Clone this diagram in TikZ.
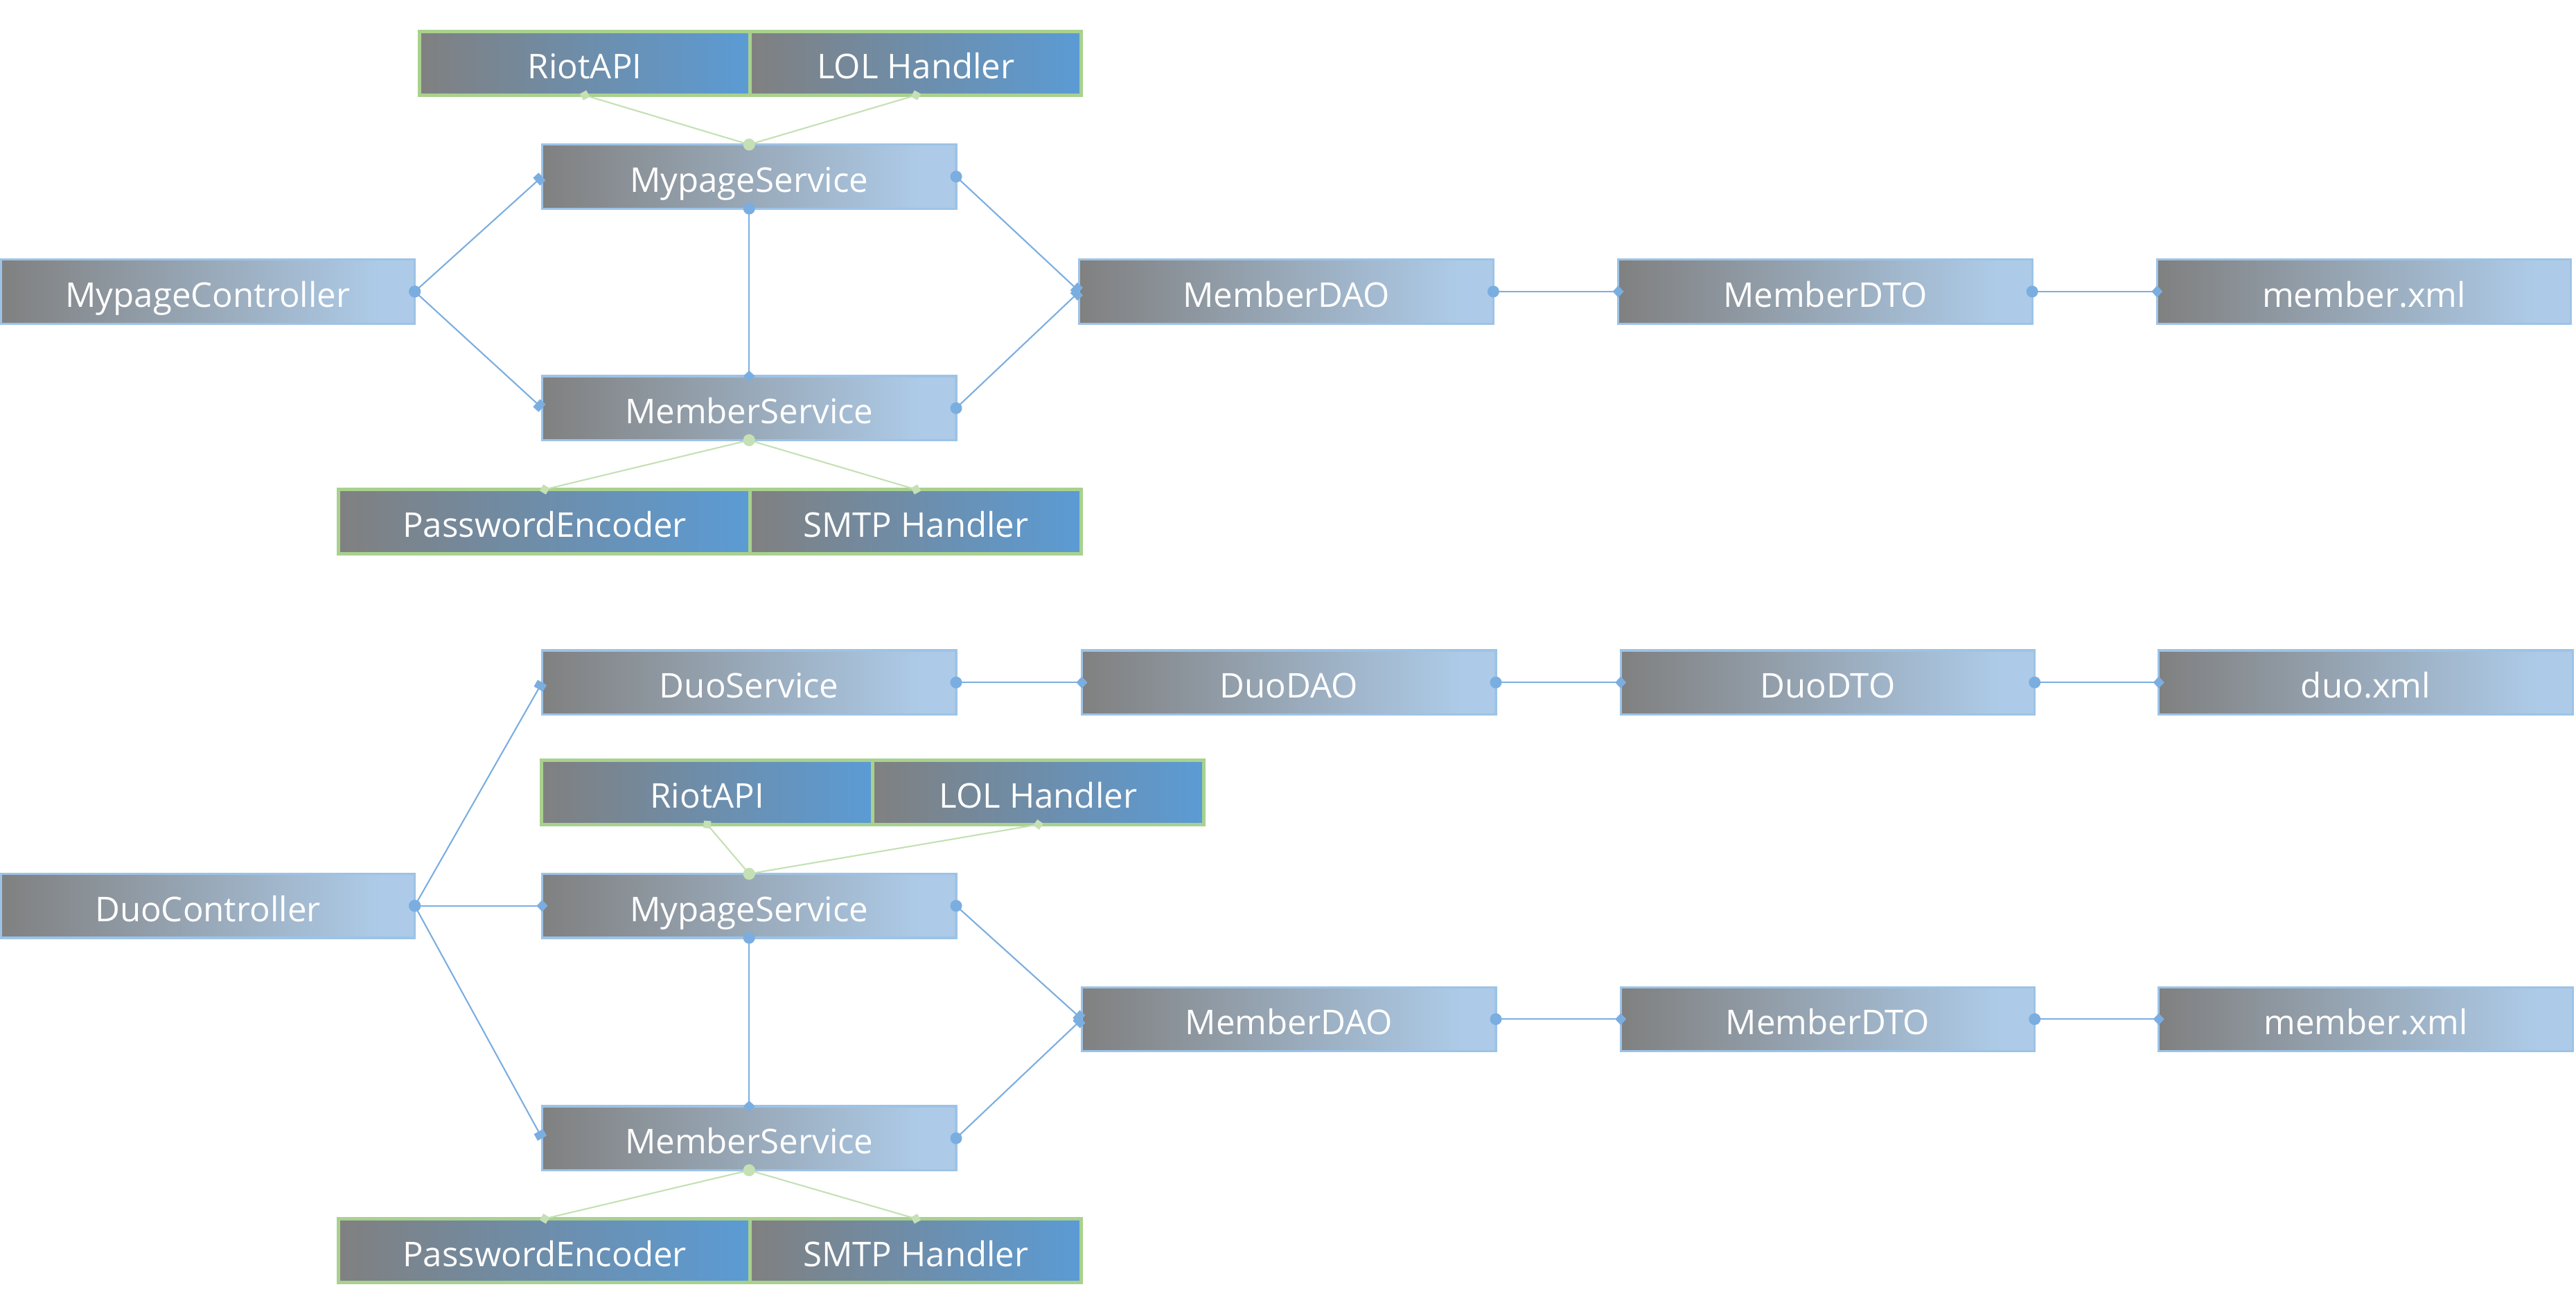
\documentclass[tikz,border=0pt]{standalone}
\usepackage{fontspec}
\setmainfont{Open Sans}
\usetikzlibrary{arrows.meta,positioning}
\definecolor{boxgray}{HTML}{808080}
\definecolor{paleblue}{HTML}{ADCBE8}
\definecolor{deepblue}{HTML}{5B9BD5}
\definecolor{edgeblue}{HTML}{9DC3E6}
\definecolor{linkblue}{HTML}{7BAEE0}
\definecolor{libgreen}{HTML}{A9D18E}
\definecolor{linkgreen}{HTML}{C5E0B4}
\pgfdeclarehorizontalshading{layershade}{100bp}{color(0bp)=(boxgray); color(25bp)=(boxgray); color(71bp)=(paleblue); color(100bp)=(paleblue)}
\tikzset{
  layerbox/.style={draw=edgeblue, line width=0.9pt, shading=layershade, text=white, font=\fontsize{14}{16}\selectfont, text height=0.45cm, text depth=0pt, minimum width=5.975cm, minimum height=0.925cm, inner sep=0pt, outer sep=0pt},
  libbox/.style={draw=libgreen, line width=1.4pt, left color=boxgray, right color=deepblue, text=white, font=\fontsize{14}{16}\selectfont, text height=0.45cm, text depth=0pt, minimum width=#1, minimum height=0.925cm, inner sep=0pt, outer sep=0pt},
  libbox/.default=4.78cm,
  link/.style={{Circle[length=1.7mm,width=1.7mm]}-{Square[length=1.1mm,width=1.5mm]}, line width=0.6pt, draw=linkblue, shorten <=-0.85mm},
  chainlink/.style={{Circle[length=1.7mm,width=1.7mm]}-{Diamond[length=1.6mm,width=1.7mm]}, line width=0.6pt, draw=linkblue, shorten <=-0.85mm, shorten >=-0.8mm},
  uselink/.style={{Circle[length=1.7mm,width=1.7mm]}-{Diamond[length=1.5mm,width=1.5mm]}, line width=0.6pt, draw=linkgreen, shorten <=-0.85mm, shorten >=-0.75mm}
}

\begin{document}
\begin{tikzpicture}[x=0.02371cm,y=-0.02371cm]
  \useasboundingbox (0,0) rectangle (1568,800);
  % mypage part
  \node[libbox] (riotA) at (356,38.5) {RiotAPI};
  \node[libbox] (lolA) at (557.5,38.5) {LOL Handler};
  \node[layerbox] (mpsA) at (456,107.5) {MypageService};
  \node[layerbox] (mpcA) at (126.5,177.5) {MypageController};
  \node[layerbox] (msA) at (456,248.5) {MemberService};
  \node[libbox=5.95cm] (pwA) at (331.5,317.5) {PasswordEncoder};
  \node[libbox] (smtpA) at (557.5,317.5) {SMTP Handler};
  \node[layerbox] (daoA) at (783,177.5) {MemberDAO};
  \node[layerbox] (dtoA) at (1111,177.5) {MemberDTO};
  \node[layerbox] (xmlA) at (1439,177.5) {member.xml};
  \draw[link] (mpcA.east) -- (mpsA.west);
  \draw[link] (mpcA.east) -- (msA.west);
  \draw[link] (mpsA.east) -- (daoA.west);
  \draw[link] (msA.east) -- (daoA.west);
  \draw[chainlink] (mpsA.south) -- (msA.north);
  \draw[chainlink] (daoA.east) -- (dtoA.west);
  \draw[chainlink] (dtoA.east) -- (xmlA.west);
  \draw[uselink] (mpsA.north) -- (riotA.south);
  \draw[uselink] (mpsA.north) -- (lolA.south);
  \draw[uselink] (msA.south) -- (pwA.north);
  \draw[uselink] (msA.south) -- (smtpA.north);
  % duo part
  \node[layerbox] (dsB) at (456,415.5) {DuoService};
  \node[layerbox] (ddaoB) at (784.5,415.5) {DuoDAO};
  \node[layerbox] (ddtoB) at (1112.5,415.5) {DuoDTO};
  \node[layerbox] (dxmlB) at (1440,415.5) {duo.xml};
  \node[libbox] (riotB) at (430.5,482.5) {RiotAPI};
  \node[libbox] (lolB) at (632,482.5) {LOL Handler};
  \node[layerbox] (dcB) at (126.5,551.5) {DuoController};
  \node[layerbox] (mpsB) at (456,551.5) {MypageService};
  \node[layerbox] (daoB) at (784.5,620.5) {MemberDAO};
  \node[layerbox] (dtoB) at (1112.5,620.5) {MemberDTO};
  \node[layerbox] (xmlB) at (1440,620.5) {member.xml};
  \node[layerbox] (msB) at (456,693) {MemberService};
  \node[libbox=5.95cm] (pwB) at (331.5,761.5) {PasswordEncoder};
  \node[libbox] (smtpB) at (557.5,761.5) {SMTP Handler};
  \draw[link] (dcB.east) -- (dsB.west);
  \draw[chainlink] (dcB.east) -- (mpsB.west);
  \draw[link] (dcB.east) -- (msB.west);
  \draw[chainlink] (dsB.east) -- (ddaoB.west);
  \draw[chainlink] (ddaoB.east) -- (ddtoB.west);
  \draw[chainlink] (ddtoB.east) -- (dxmlB.west);
  \draw[link] (mpsB.east) -- (daoB.west);
  \draw[link] (msB.east) -- (daoB.west);
  \draw[chainlink] (mpsB.south) -- (msB.north);
  \draw[chainlink] (daoB.east) -- (dtoB.west);
  \draw[chainlink] (dtoB.east) -- (xmlB.west);
  \draw[uselink] (mpsB.north) -- (riotB.south);
  \draw[uselink] (mpsB.north) -- (lolB.south);
  \draw[uselink] (msB.south) -- (pwB.north);
  \draw[uselink] (msB.south) -- (smtpB.north);
\end{tikzpicture}
\end{document}
